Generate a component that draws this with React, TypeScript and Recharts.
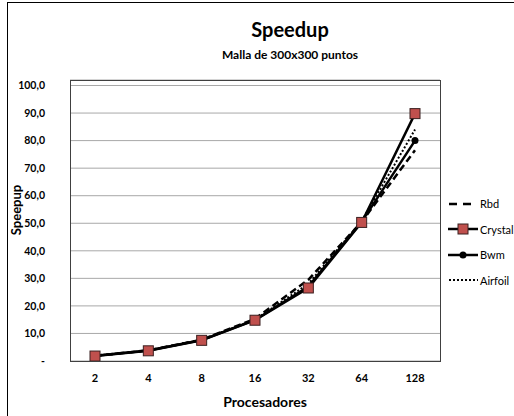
import { LineChart, Line, XAxis, YAxis, CartesianGrid, Legend, Label } from "recharts";

// Speedup, malla de 300x300 puntos
const procesadores = ["2", "4", "8", "16", "32", "64", "128"];
const rbd = [1.9, 3.9, 7.7, 15.3, 29.5, 50.5, 76.5];
const crystal = [1.8, 3.7, 7.5, 14.8, 26.5, 50.3, 89.8];
const bwm = [1.9, 3.8, 7.6, 14.9, 27.0, 50.5, 80.0];
const airfoil = [1.9, 3.8, 7.7, 15.0, 28.0, 50.8, 84.0];
const yTicks = [0, 10, 20, 30, 40, 50, 60, 70, 80, 90, 100];

const data = procesadores.map((p, i) => ({
  p,
  Rbd: rbd[i],
  Crystal: crystal[i],
  Bwm: bwm[i],
  Airfoil: airfoil[i],
}));

const FONT = "Lato, 'Liberation Sans', sans-serif";
const RED = "#C0504D";

const legendOrder = ["Rbd", "Crystal", "Bwm", "Airfoil"];

function SquareDot(props: any) {
  const { cx, cy, index } = props;
  if (cx == null || cy == null) return null;
  return (
    <rect
      key={"sq" + index}
      x={cx - 5}
      y={cy - 5}
      width={10}
      height={10}
      fill={RED}
      stroke="#3b2020"
      strokeWidth={1}
    />
  );
}

function RoundDot(props: any) {
  const { cx, cy, index } = props;
  if (cx == null || cy == null) return null;
  return <circle key={"c" + index} cx={cx} cy={cy} r={3.5} fill="#000" />;
}

function LegendIcon({ name }: { name: string }) {
  return (
    <svg width={30} height={12} style={{ display: "block" }}>
      {name === "Rbd" && (
        <line x1={1} y1={6} x2={29} y2={6} stroke="#000" strokeWidth={2.5} strokeDasharray="8 6" />
      )}
      {name === "Crystal" && (
        <>
          <line x1={0} y1={6} x2={30} y2={6} stroke="#000" strokeWidth={2.5} />
          <rect x={10} y={1} width={10} height={10} fill={RED} stroke="#3b2020" />
        </>
      )}
      {name === "Bwm" && (
        <>
          <line x1={0} y1={6} x2={30} y2={6} stroke="#000" strokeWidth={2.5} />
          <circle cx={15} cy={6} r={3.5} fill="#000" />
        </>
      )}
      {name === "Airfoil" && (
        <line x1={1} y1={6} x2={30} y2={6} stroke="#000" strokeWidth={2} strokeDasharray="2 2" />
      )}
    </svg>
  );
}

function LegendBox() {
  return (
    <div style={{ fontFamily: FONT, fontSize: 11, color: "#000" }}>
      {legendOrder.map((name) => (
        <div key={name} style={{ display: "flex", alignItems: "center", height: 25.5 }}>
          <LegendIcon name={name} />
          <span style={{ marginLeft: 2 }}>{name}</span>
        </div>
      ))}
    </div>
  );
}

const fmt = (v: number) => (v === 0 ? "-" : v.toFixed(1).replace(".", ","));

export default function App() {
  return (
    <div
      style={{
        position: "absolute",
        left: 0,
        top: 0,
        width: 514,
        height: 416,
        overflow: "hidden",
        background: "#fff",
        fontFamily: FONT,
      }}
    >
      <div
        style={{
          position: "absolute",
          left: 7,
          top: 2,
          width: 540,
          height: 440,
          border: "1.5px solid #000",
          boxSizing: "border-box",
        }}
      />
      <div
        style={{
          position: "absolute",
          left: 190,
          width: 200,
          top: 17,
          textAlign: "center",
          fontWeight: "bold",
          fontSize: 20,
          lineHeight: "24px",
        }}
      >
        Speedup
      </div>
      <div
        style={{
          position: "absolute",
          left: 190,
          width: 200,
          top: 48,
          textAlign: "center",
          fontWeight: "bold",
          fontSize: 12,
          lineHeight: "14px",
        }}
      >
        Malla de 300x300 puntos
      </div>
      <LineChart
        width={514}
        height={416}
        data={data}
        margin={{ top: 80, right: 74, bottom: 25, left: 10 }}
        style={{ position: "absolute", left: 0, top: 0 }}
      >
        <CartesianGrid horizontal vertical={false} stroke="#a8a8a8" strokeWidth={1} />
        <XAxis
          dataKey="p"
          height={30}
          padding={{ left: 25, right: 25 }}
          tickLine={false}
          tickSize={0}
          tickMargin={13}
          axisLine={false}
          tick={{ fontSize: 11, fontWeight: "bold", fill: "#000", fontFamily: FONT }}
        >
          <Label
            content={(props: any) => {
              const vb = props.viewBox || {};
              return (
                <text
                  x={vb.x + vb.width / 2 + 10}
                  y={407}
                  textAnchor="middle"
                  fontSize={14}
                  fontWeight="bold"
                  fill="#000"
                  fontFamily={FONT}
                >
                  Procesadores
                </text>
              );
            }}
          />
        </XAxis>
        <YAxis
          width={60}
          domain={[0, 102]}
          ticks={yTicks}
          tickFormatter={fmt}
          tickLine={false}
          tickSize={0}
          tickMargin={25}
          axisLine={false}
          tick={{ fontSize: 10.5, fontWeight: "bold", fill: "#000", fontFamily: FONT }}
        >
          <Label
            content={() => (
              <text
                x={0}
                y={0}
                transform="translate(21 210) rotate(-90)"
                textAnchor="middle"
                fontSize={13}
                fontWeight="bold"
                fill="#000"
                fontFamily={FONT}
              >
                Speepup
              </text>
            )}
          />
        </YAxis>
        <Legend
          layout="vertical"
          align="center"
          verticalAlign="middle"
          wrapperStyle={{ left: 448, top: 191, width: 66 }}
          content={() => <LegendBox />}
        />
        <Line
          type="linear"
          dataKey="Rbd"
          stroke="#000"
          strokeWidth={2.5}
          strokeDasharray="7 4"
          dot={false}
          isAnimationActive={false}
        />
        <Line
          type="linear"
          dataKey="Airfoil"
          stroke="#000"
          strokeWidth={2}
          strokeDasharray="2 2"
          dot={false}
          isAnimationActive={false}
        />
        <Line
          type="linear"
          dataKey="Bwm"
          stroke="#000"
          strokeWidth={2.5}
          dot={RoundDot}
          isAnimationActive={false}
        />
        <Line
          type="linear"
          dataKey="Crystal"
          stroke="#000"
          strokeWidth={2.5}
          dot={SquareDot}
          isAnimationActive={false}
        />
      </LineChart>
      <div
        style={{
          position: "absolute",
          left: 70,
          top: 80,
          width: 371,
          height: 282,
          border: "1.5px solid #404040",
          boxSizing: "border-box",
          pointerEvents: "none",
        }}
      />
    </div>
  );
}
